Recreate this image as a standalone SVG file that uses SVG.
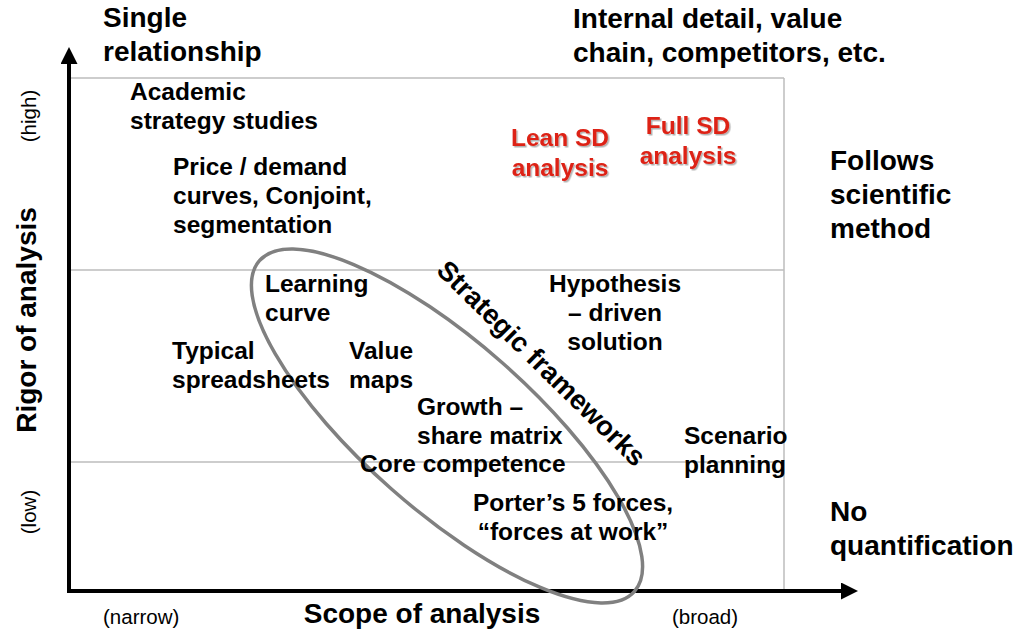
<svg xmlns="http://www.w3.org/2000/svg" width="1021" height="633" viewBox="0 0 1021 633">
  <defs>
    <style>
      text { font-family: "Liberation Sans", Arial, Helvetica, sans-serif; fill: #000; }
      .big { font-size: 28px; font-weight: bold; }
      .lbl { font-size: 24.5px; font-weight: bold; }
      .red { font-size: 24.5px; font-weight: bold; fill: #dd2416; filter: url(#shadow); }
      .tick { font-size: 20.5px; font-weight: normal; }
      .mid { text-anchor: middle; }
      .grid { stroke: #bdbdbd; stroke-width: 1.5; fill: none; }
      .axis { stroke: #000; stroke-width: 4; fill: none; }
    </style>
    <marker id="head" viewBox="0 0 17 17" refX="0" refY="8.5" markerWidth="17" markerHeight="17" markerUnits="userSpaceOnUse" orient="auto">
      <path d="M0,0 L17,8.5 L0,17 Z" fill="#000"/>
    </marker>
    <filter id="shadow" x="-10%" y="-10%" width="130%" height="140%">
      <feDropShadow dx="1.5" dy="1.5" stdDeviation="0.6" flood-color="#000" flood-opacity="0.3"/>
    </filter>
  </defs>

  <rect width="1021" height="633" fill="#fff"/>

  <!-- grid of the chart area -->
  <g id="grid">
    <line class="grid" x1="69" y1="78" x2="784" y2="78"/>
    <line class="grid" x1="69" y1="270" x2="784" y2="270"/>
    <line class="grid" x1="69" y1="462" x2="784" y2="462"/>
    <line class="grid" x1="784" y1="78" x2="784" y2="591"/>
  </g>

  <!-- axes -->
  <g id="connectors">
    <line class="axis" x1="69" y1="593" x2="69" y2="64" marker-end="url(#head)"/>
    <line class="axis" x1="67" y1="591" x2="841" y2="591" marker-end="url(#head)"/>
  </g>

  <!-- strategic frameworks ellipse -->
  <g id="frameworks">
    <ellipse cx="447" cy="426" rx="250" ry="84" transform="rotate(41.4 447 426)" fill="none" stroke="#808080" stroke-width="3.5"/>
    <text class="lbl mid" style="font-size:27.5px" transform="translate(535 370) rotate(44.5)">Strategic frameworks</text>
  </g>

  <!-- axis titles and ends -->
  <g id="axis-y">
    <text class="big mid" transform="translate(36 320) rotate(-90)">Rigor of analysis</text>
    <text class="tick mid" transform="translate(36 116) rotate(-90)">(high)</text>
    <text class="tick mid" transform="translate(36 512) rotate(-90)">(low)</text>
  </g>
  <g id="axis-x">
    <text class="big mid" x="422" y="623">Scope of analysis</text>
    <text class="tick" x="103" y="624">(narrow)</text>
    <text class="tick mid" x="705" y="624">(broad)</text>
  </g>

  <!-- corner captions -->
  <g id="single-relationship">
    <text class="big" x="103" y="27">Single</text>
    <text class="big" x="103" y="61">relationship</text>
  </g>
  <g id="internal-detail">
    <text class="big" x="573" y="28">Internal detail, value</text>
    <text class="big" x="573" y="62">chain, competitors, etc.</text>
  </g>
  <g id="follows-scientific-method">
    <text class="big" x="830" y="170">Follows</text>
    <text class="big" x="830" y="204">scientific</text>
    <text class="big" x="830" y="238">method</text>
  </g>
  <g id="no-quantification">
    <text class="big" x="830" y="521">No</text>
    <text class="big" x="830" y="555">quantification</text>
  </g>

  <!-- methods -->
  <g id="academic">
    <text class="lbl" x="130" y="100">Academic</text>
    <text class="lbl" x="130" y="129">strategy studies</text>
  </g>
  <g id="price-demand">
    <text class="lbl" x="173" y="175">Price / demand</text>
    <text class="lbl" x="173" y="204">curves, Conjoint,</text>
    <text class="lbl" x="173" y="233">segmentation</text>
  </g>
  <g id="lean-sd">
    <text class="red mid" x="560" y="146">Lean SD</text>
    <text class="red mid" x="560" y="176">analysis</text>
  </g>
  <g id="full-sd">
    <text class="red mid" x="688" y="134">Full SD</text>
    <text class="red mid" x="688" y="164">analysis</text>
  </g>
  <g id="learning-curve">
    <text class="lbl" x="265" y="292">Learning</text>
    <text class="lbl" x="265" y="321">curve</text>
  </g>
  <g id="hypothesis">
    <text class="lbl mid" x="615" y="292">Hypothesis</text>
    <text class="lbl mid" x="615" y="321">– driven</text>
    <text class="lbl mid" x="615" y="350">solution</text>
  </g>
  <g id="spreadsheets">
    <text class="lbl" x="172" y="359">Typical</text>
    <text class="lbl" x="172" y="388">spreadsheets</text>
  </g>
  <g id="value-maps">
    <text class="lbl" x="349" y="359">Value</text>
    <text class="lbl" x="349" y="388">maps</text>
  </g>
  <g id="growth-share">
    <text class="lbl" x="417" y="415">Growth –</text>
    <text class="lbl" x="417" y="444">share matrix</text>
  </g>
  <g id="core-competence">
    <text class="lbl" x="360" y="472">Core competence</text>
  </g>
  <g id="scenario">
    <text class="lbl" x="684" y="444">Scenario</text>
    <text class="lbl" x="684" y="473">planning</text>
  </g>
  <g id="porter">
    <text class="lbl mid" x="573" y="511">Porter’s 5 forces,</text>
    <text class="lbl mid" x="573" y="540">“forces at work”</text>
  </g>
</svg>
